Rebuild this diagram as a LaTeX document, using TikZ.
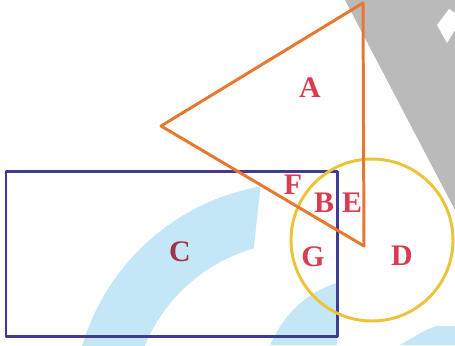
\documentclass[tikz,border=0pt]{standalone}
\usepackage{fontspec}
\setmainfont{Liberation Serif}
\usetikzlibrary{positioning}

\definecolor{triorange}{HTML}{E8772F}
\definecolor{rectblue}{HTML}{3F3A92}
\definecolor{circyellow}{HTML}{EAC53C}
\definecolor{labelred}{HTML}{D93C50}
\definecolor{labeldark}{HTML}{A3324C}
\definecolor{wmblue}{HTML}{C3E7F6}
\definecolor{wmgray}{HTML}{BABABA}

\begin{document}
\begin{tikzpicture}[
    x=0.02cm, y=-0.02cm,
    font=\fontsize{17}{20}\selectfont\bfseries,
    region/.style={text=labelred, inner sep=0pt},
    outline/.style={line width=1.7pt, line join=round}
]
  \useasboundingbox (0,0) rectangle (455,345);
  % watermark in the background
  \begin{scope}
    \clip (0,0) rectangle (455,345);
    \fill[wmblue] ([shift={(300,410)}]180:227) arc[start angle=180, end angle=260, radius=227]
      -- ([shift={(300,410)}]254:168) arc[start angle=254, end angle=180, radius=168] -- cycle;
    \fill[wmblue] (270,345) .. controls (285,312) and (308,292) .. (337,283) -- (337,345) -- cycle;
    \fill[wmblue] (400,345) -- (426,330) -- (436,326) -- (455,326) -- (455,345) -- cycle;
    \fill[wmgray] (345,0) -- (455,0) -- (455,210) -- cycle;
    \fill[white] (437,25) -- (449,9) -- (455,13) -- (455,30) -- (447,43) -- cycle;
  \end{scope}

  \coordinate (ttop) at (363,3);
  \coordinate (tleft) at (161,126);
  \coordinate (tbot) at (364,246);
  \draw[outline, rectblue] (6,171) rectangle (337,336);
  \draw[outline, circyellow] (372,240) circle[radius=81];
  \draw[outline, triorange] (ttop) -- (tleft) -- (tbot) -- cycle;

  \node[region] (A) at (310,88) {A};
  \node[region] (F) at (293,185) {F};
  \node[region] (B) at (324,203) {B};
  \node[region] (E) at (352,203) {E};
  \node[region] (G) at (313,257) {G};
  \node[region, text=labeldark] (C) at (180,252) {C};
  \node[region] (D) at (402,256) {D};
\end{tikzpicture}
\end{document}
